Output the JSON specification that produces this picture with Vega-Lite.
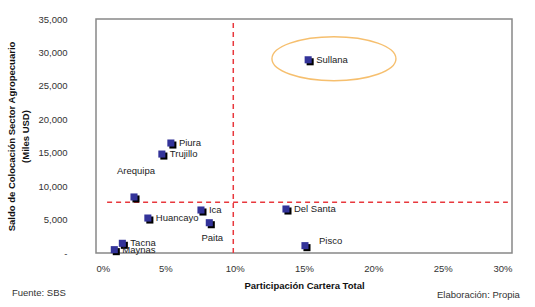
{
  "$schema": "https://vega.github.io/schema/vega-lite/v6.json",
  "width": 416,
  "height": 234,
  "autosize": {"type": "none"},
  "padding": {"left": 96, "top": 19, "right": 23, "bottom": 54},
  "background": "white",
  "config": {
    "font": "Liberation Sans",
    "view": {"stroke": "#888888", "strokeWidth": 1.5},
    "axis": {
      "grid": false,
      "domain": false,
      "ticks": false,
      "tickSize": 0,
      "labelFont": "Liberation Sans",
      "labelFontSize": 9.5,
      "labelColor": "#333333",
      "titleFont": "Liberation Sans",
      "titleFontSize": 9.5,
      "titleFontWeight": "bold",
      "titleColor": "#111111"
    }
  },
  "datasets": {
    "zonas": [
      {"zona": "Sullana", "participacion": 0.153, "saldo": 28900},
      {"zona": "Piura", "participacion": 0.054, "saldo": 16450},
      {"zona": "Trujillo", "participacion": 0.0475, "saldo": 14800},
      {"zona": "Arequipa", "participacion": 0.0274, "saldo": 8380},
      {"zona": "Huancayo", "participacion": 0.0374, "saldo": 5230},
      {"zona": "Ica", "participacion": 0.0757, "saldo": 6430},
      {"zona": "Paita", "participacion": 0.0817, "saldo": 4530},
      {"zona": "Tacna", "participacion": 0.019, "saldo": 1450},
      {"zona": "Maynas", "participacion": 0.0132, "saldo": 500},
      {"zona": "Del Santa", "participacion": 0.137, "saldo": 6580},
      {"zona": "Pisco", "participacion": 0.1507, "saldo": 1100}
    ]
  },
  "data": {"name": "zonas"},
  "encoding": {
    "x": {
      "field": "participacion",
      "type": "quantitative",
      "scale": {"domain": [0, 0.3], "nice": false, "zero": true},
      "axis": {
        "values": [0, 0.05, 0.1, 0.15, 0.2, 0.25, 0.3],
        "format": ".0%",
        "labelPadding": 10,
        "title": "Participación Cartera Total",
        "titlePadding": 8
      }
    },
    "y": {
      "field": "saldo",
      "type": "quantitative",
      "scale": {"domain": [0, 35000], "nice": false},
      "axis": {
        "values": [0, 5000, 10000, 15000, 20000, 25000, 30000, 35000],
        "labelExpr": "datum.value === 0 ? '-' : format(datum.value, ',')",
        "labelPadding": 29,
        "title": ["Saldo de Colocación Sector Agropecuario", "(Miles USD)"],
        "titleLineHeight": 14,
        "titlePadding": 7
      }
    }
  },
  "layer": [
    {
      "transform": [{"filter": "datum.zona === 'Sullana'"}],
      "mark": {"type": "rule", "color": "#e8383d", "strokeWidth": 1.5, "strokeDash": [5, 4]},
      "encoding": {"x": {"datum": 0.099}, "y": {"datum": 0}, "y2": {"datum": 35000}}
    },
    {
      "transform": [{"filter": "datum.zona === 'Sullana'"}],
      "mark": {"type": "rule", "color": "#e8383d", "strokeWidth": 1.5, "strokeDash": [5, 4]},
      "encoding": {"y": {"datum": 7600}, "x": {"datum": 0.008}, "x2": {"datum": 0.297}}
    },
    {
      "transform": [{"filter": "datum.zona === 'Sullana'"}],
      "mark": {
        "type": "point",
        "shape": "M-1,0A1,0.355,0,1,1,1,0A1,0.355,0,1,1,-1,0Z",
        "filled": false,
        "stroke": "#f3a532",
        "strokeWidth": 1.4,
        "size": 15376
      },
      "encoding": {"x": {"datum": 0.1716}, "y": {"datum": 29060}}
    },
    {
      "mark": {"type": "point", "shape": "square", "filled": true, "color": "#000000", "opacity": 1, "size": 50, "xOffset": 2, "yOffset": 2}
    },
    {
      "mark": {"type": "point", "shape": "square", "filled": true, "color": "#333399", "opacity": 1, "size": 50}
    },
    {
      "transform": [{"filter": "indexof(['Arequipa', 'Paita', 'Pisco'], datum.zona) < 0"}],
      "mark": {"type": "text", "align": "left", "baseline": "middle", "dx": 8, "fontSize": 9.5, "color": "#222222"},
      "encoding": {"text": {"field": "zona"}}
    },
    {
      "transform": [{"filter": "datum.zona === 'Arequipa'"}],
      "mark": {"type": "text", "align": "center", "baseline": "middle", "dx": 2, "dy": -26, "fontSize": 9.5, "color": "#222222"},
      "encoding": {"text": {"field": "zona"}}
    },
    {
      "transform": [{"filter": "datum.zona === 'Paita'"}],
      "mark": {"type": "text", "align": "center", "baseline": "middle", "dx": 3, "dy": 15, "fontSize": 9.5, "color": "#222222"},
      "encoding": {"text": {"field": "zona"}}
    },
    {
      "transform": [{"filter": "datum.zona === 'Pisco'"}],
      "mark": {"type": "text", "align": "left", "baseline": "middle", "dx": 14, "dy": -5, "fontSize": 9.5, "color": "#222222"},
      "encoding": {"text": {"field": "zona"}}
    },
    {
      "transform": [{"filter": "datum.zona === 'Sullana'"}],
      "mark": {"type": "text", "align": "left", "baseline": "middle", "fontSize": 9.5, "color": "#333333", "text": "Fuente: SBS"},
      "encoding": {"x": {"datum": -0.0606}, "y": {"datum": -5983}}
    },
    {
      "transform": [{"filter": "datum.zona === 'Sullana'"}],
      "mark": {"type": "text", "align": "right", "baseline": "middle", "fontSize": 9.5, "color": "#333333", "text": "Elaboración: Propia"},
      "encoding": {"x": {"datum": 0.3057}, "y": {"datum": -6326}}
    }
  ]
}
